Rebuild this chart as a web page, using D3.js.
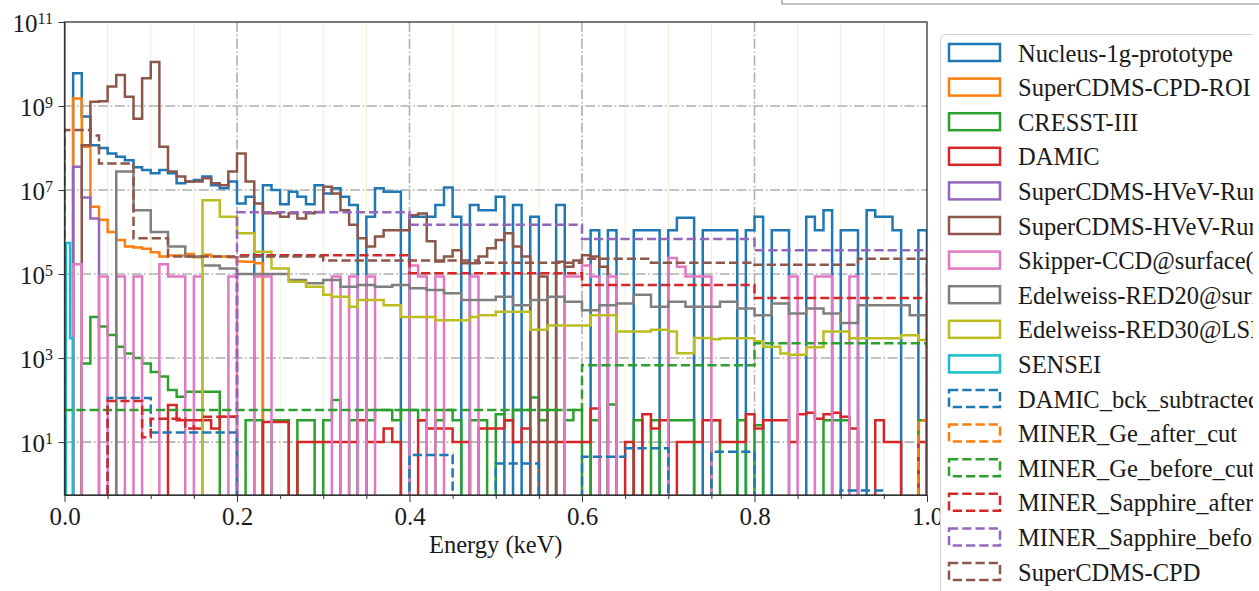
<!DOCTYPE html>
<html>
<head>
<meta charset="utf-8">
<script src="https://cdn.jsdelivr.net/npm/d3@7"></script>
<style>
  body { margin: 0; background: #fff; }
  text { font-family: "Liberation Serif", "Times New Roman", serif; fill: #1a1a1a; }
</style>
</head>
<body>
<svg width="1259" height="591"></svg>
<script>
// bin edges (keV), 0.01 keV bins
var edges = d3.range(0, 101).map(function(i) { return i / 100; });
var senseiEdges = [0.0015, 0.0065, 0.01];

// counts per bin (0 = empty bin)
var nucleus = [
  0, 6.0e9, 5.6e8, 1.17e8, 1.0e8, 7.4e7, 6.2e7, 5.1e7, 3.5e7, 3.0e7,
  2.5e7, 3.0e7, 2.5e7, 1.45e7, 1.6e7, 1.74e7, 2.1e7, 1.3e7, 1.1e7, 1.6e7,
  4.8e6, 6.9e6, 0, 1.3e7, 1.0e7, 4.6e6, 9.1e6, 6.9e6, 4.6e6, 1.3e7,
  8.3e6, 1.1e7, 6.9e6, 4.4e6, 0, 2.3e6, 1.1e7, 9.1e6, 9.1e6, 0,
  2.3e6, 2.3e6, 2.3e6, 4.4e6, 1.15e7, 2.3e6, 0, 4.4e6, 3.3e6, 3.3e6,
  6.9e6, 0, 4.4e6, 0, 2.3e6, 0, 0, 4.4e6, 0, 0,
  0, 1.1e6, 0, 1.1e6, 0, 0, 1.1e6, 1.1e6, 1.1e6, 0,
  1.1e6, 2.2e6, 2.2e6, 0, 1.1e6, 1.1e6, 1.1e6, 1.1e6, 0, 1.1e6,
  2.3e6, 0, 1.1e6, 1.1e6, 0, 0, 2.3e6, 1.1e6, 3.3e6, 0,
  1.1e6, 1.1e6, 0, 3.3e6, 2.3e6, 2.3e6, 1.1e6, 0, 0, 1.1e6
];
var cpdRoi = [
  0, 1.5e9, 1.07e8, 4.0e6, 1.95e6, 1.0e6, 6.5e5, 4.5e5, 4.3e5, 4.0e5,
  3.3e5, 2.6e5, 2.75e5, 2.75e5, 3.0e5, 2.5e5, 2.9e5, 2.6e5, 2.6e5, 2.5e5,
  2.0e5, 1.95e5, 1.8e5, 0, 0, 0, 0, 0, 0, 0,
  0, 0, 0, 0, 0, 0, 0, 0, 0, 0,
  0, 0, 0, 0, 0, 0, 0, 0, 0, 0,
  0, 0, 0, 0, 0, 0, 0, 0, 0, 0,
  0, 0, 0, 0, 0, 0, 0, 0, 0, 0,
  0, 0, 0, 0, 0, 0, 0, 0, 0, 0,
  0, 0, 0, 0, 0, 0, 0, 0, 0, 0,
  0, 0, 0, 0, 0, 0, 0, 0, 0, 0
];
var cresst = [
  0, 0, 741, 9550, 5623, 3548, 1862, 1288, 1000, 741,
  468, 363, 174, 120, 158, 158, 158, 158, 0, 0,
  0, 33, 33, 0, 33, 33, 0, 33, 33, 0,
  33, 100, 0, 33, 0, 33, 58, 58, 33, 58,
  58, 33, 0, 33, 58, 33, 0, 33, 33, 0,
  46, 33, 58, 58, 115, 33, 58, 0, 33, 58,
  0, 33, 0, 79, 0, 0, 33, 0, 33, 0,
  33, 33, 33, 0, 0, 33, 0, 0, 33, 0,
  25, 0, 0, 0, 0, 0, 0, 0, 33, 33,
  33, 0, 0, 0, 0, 0, 0, 0, 0, 33
];
var damic = [
  0, 0, 0, 0, 0, 0, 0, 0, 0, 0,
  0, 0, 76, 33, 33, 21, 33, 21, 40, 40,
  0, 0, 0, 30, 30, 30, 0, 10, 10, 10,
  10, 10, 10, 10, 33, 10, 10, 21, 10, 0,
  0, 33, 21, 21, 21, 10, 10, 0, 21, 21,
  21, 33, 10, 21, 10, 10, 10, 10, 10, 10,
  10, 63, 0, 0, 0, 10, 0, 46, 21, 33,
  0, 10, 10, 10, 33, 33, 10, 10, 10, 46,
  21, 33, 33, 33, 10, 46, 50, 36, 46, 50,
  40, 21, 0, 0, 33, 10, 10, 0, 0, 10
];
var hvevRun1 = [
  0, 3.6e7, 6.6e6, 2.1e6, 0, 0, 0, 0, 0, 0,
  0, 0, 0, 0, 0, 0, 0, 0, 0, 0,
  0, 0, 0, 0, 0, 0, 0, 0, 0, 0,
  0, 0, 0, 0, 0, 0, 0, 0, 0, 0,
  0, 0, 0, 0, 0, 0, 0, 0, 0, 0,
  0, 0, 0, 0, 0, 0, 0, 0, 0, 0,
  0, 0, 0, 0, 0, 0, 0, 0, 0, 0,
  0, 0, 0, 0, 0, 0, 0, 0, 0, 0,
  0, 0, 0, 0, 0, 0, 0, 0, 0, 0,
  0, 0, 0, 0, 0, 0, 0, 0, 0, 0
];
var hvevRun2 = [
  0, 0, 1.17e8, 1.26e9, 1.3e9, 2.9e9, 5.5e9, 1.66e9, 5.0e8, 4.6e9,
  1.12e10, 1.07e8, 2.75e7, 2.1e7, 1.6e7, 1.6e7, 1.9e7, 1.45e7, 1.3e7, 2.75e7,
  7.4e7, 1.6e7, 4.8e6, 2.8e6, 2.8e6, 2.3e6, 2.8e6, 2.1e6, 2.8e6, 3.0e6,
  1.2e7, 8.3e6, 3.3e6, 1.5e6, 7.1e5, 4.5e5, 7.8e5, 1.1e6, 1.1e6, 1.1e6,
  2.5e6, 2.75e6, 6.0e5, 2.0e5, 2.6e5, 3.7e5, 1.8e5, 1.8e5, 2.6e5, 4.1e5,
  6.5e5, 9.3e5, 4.5e5, 2.6e5, 0, 8.7e4, 0, 1.95e5, 1.5e5, 2.1e5,
  2.8e5, 2.6e5, 1.5e5, 0, 0, 0, 0, 0, 0, 0,
  0, 0, 0, 0, 0, 0, 0, 0, 0, 0,
  0, 0, 0, 0, 0, 0, 0, 0, 0, 0,
  0, 0, 0, 0, 0, 0, 0, 0, 0, 0
];
var skipper = [
  0, 1.7e5, 0, 0, 8.7e4, 0, 8.7e4, 0, 8.7e4, 0,
  0, 1.7e5, 8.7e4, 8.7e4, 0, 8.7e4, 0, 0, 0, 8.7e4,
  0, 0, 8.7e4, 8.7e4, 0, 0, 0, 0, 0, 0,
  0, 8.7e4, 0, 8.7e4, 0, 8.7e4, 0, 0, 0, 0,
  1.6e5, 8.7e4, 0, 8.7e4, 0, 0, 0, 8.7e4, 0, 0,
  0, 0, 0, 0, 0, 0, 0, 0, 8.7e4, 8.7e4,
  1.6e5, 8.7e4, 0, 8.7e4, 0, 0, 0, 0, 0, 0,
  2.4e5, 1.5e5, 8.7e4, 8.7e4, 8.7e4, 0, 0, 0, 0, 0,
  0, 0, 0, 0, 8.7e4, 0, 0, 8.7e4, 8.7e4, 0,
  0, 8.7e4, 0, 0, 0, 0, 0, 0, 0, 0
];
var red20 = [
  0, 0, 0, 0, 0, 0, 2.75e7, 2.75e7, 3.3e6, 3.3e6,
  1.0e6, 1.0e6, 4.5e5, 4.5e5, 2.6e5, 2.6e5, 1.6e5, 1.6e5, 1.35e5, 1.35e5,
  1.0e5, 1.0e5, 1.0e5, 1.0e5, 1.0e5, 1.0e5, 7.2e4, 7.2e4, 6.0e4, 6.0e4,
  7.2e4, 7.2e4, 5.0e4, 5.0e4, 5.5e4, 5.5e4, 5.0e4, 5.0e4, 5.5e4, 5.5e4,
  4.6e4, 4.6e4, 4.2e4, 4.2e4, 3.5e4, 3.5e4, 2.4e4, 2.4e4, 2.4e4, 2.4e4,
  2.9e4, 2.9e4, 1.82e4, 1.82e4, 2.4e4, 2.4e4, 2.9e4, 2.9e4, 2.19e4, 2.19e4,
  1.38e4, 1.38e4, 1.82e4, 1.82e4, 2.0e4, 2.0e4, 3.2e4, 3.2e4, 1.66e4, 1.66e4,
  2.19e4, 2.19e4, 1.66e4, 1.66e4, 1.66e4, 1.66e4, 2.19e4, 2.19e4, 1.51e4, 1.51e4,
  1.05e4, 1.05e4, 2.0e4, 2.0e4, 1.15e4, 1.15e4, 1.51e4, 1.51e4, 1.15e4, 1.15e4,
  6.8e3, 6.8e3, 1.82e4, 1.82e4, 1.82e4, 1.82e4, 1.82e4, 1.82e4, 1.05e4, 1.05e4
];
var red30 = [
  0, 0, 0, 0, 0, 0, 0, 0, 0, 0,
  0, 0, 0, 0, 0, 0, 5.75e6, 5.75e6, 2.3e6, 2.3e6,
  9.3e5, 9.3e5, 3.4e5, 3.4e5, 1.35e5, 1.35e5, 6.6e4, 6.6e4, 5.0e4, 5.0e4,
  3.2e4, 2.9e4, 2.9e4, 1.66e4, 2.4e4, 2.4e4, 2.4e4, 1.82e4, 1.82e4, 9.5e3,
  9.5e3, 9.5e3, 9.5e3, 7.9e3, 7.9e3, 7.9e3, 7.9e3, 9.5e3, 1.05e4, 1.05e4,
  1.26e4, 1.26e4, 1.26e4, 1.26e4, 4.7e3, 4.7e3, 6.0e3, 6.0e3, 6.0e3, 6.0e3,
  6.0e3, 1.05e4, 1.05e4, 1.05e4, 4.3e3, 4.3e3, 4.3e3, 4.3e3, 4.7e3, 4.7e3,
  4.3e3, 1.3e3, 1.3e3, 3.0e3, 3.0e3, 2.8e3, 2.95e3, 2.95e3, 2.95e3, 2.95e3,
  2.5e3, 1.86e3, 1.86e3, 1.29e3, 1.2e3, 1.2e3, 1.8e3, 1.8e3, 4.3e3, 4.3e3,
  4.3e3, 2.95e3, 2.95e3, 2.95e3, 2.95e3, 2.95e3, 2.95e3, 3.5e3, 3.5e3, 2.7e3
];
var sensei = [5.5e5, 2.95e3];
var damicBck = [
  0, 0, 0, 0, 0, 112, 112, 112, 112, 112,
  17, 17, 17, 17, 17, 17, 17, 17, 17, 17,
  0, 0, 0, 0, 0, 0, 0, 0, 0, 0,
  0, 0, 0, 0, 0, 0, 0, 0, 0, 0,
  4.9, 4.9, 4.9, 4.9, 4.9, 0, 0, 0, 0, 0,
  3.1, 3.1, 3.1, 3.1, 3.1, 0, 0, 0, 0, 0,
  4.5, 4.5, 4.5, 4.5, 4.5, 7.1, 7.1, 7.1, 7.1, 7.1,
  0, 0, 0, 0, 0, 5.9, 5.9, 5.9, 5.9, 5.9,
  0, 0, 0, 0, 0, 0, 0, 0, 0, 0,
  0.7, 0.7, 0.7, 0.7, 0.7, 0, 0, 0, 0, 0
];
var geAfter = [
  0, 0, 0, 0, 0, 0, 0, 0, 0, 0,
  0, 0, 0, 0, 0, 0, 0, 0, 0, 0,
  0, 0, 0, 0, 0, 0, 0, 0, 0, 0,
  0, 0, 0, 0, 0, 0, 0, 0, 0, 0,
  0, 0, 0, 0, 0, 0, 0, 0, 0, 0,
  0, 0, 0, 0, 0, 0, 0, 0, 0, 0,
  0, 0, 0, 0, 0, 0, 0, 0, 0, 0,
  0, 0, 0, 0, 0, 0, 0, 0, 0, 0,
  0, 0, 0, 0, 0, 0, 0, 0, 0, 0,
  0, 0, 0, 0, 0, 0, 0, 0, 0, 33
];
var geBefore = [
  58, 58, 58, 58, 58, 58, 58, 58, 58, 58,
  58, 58, 58, 58, 58, 58, 58, 58, 58, 58,
  58, 58, 58, 58, 58, 58, 58, 58, 58, 58,
  58, 58, 58, 58, 58, 58, 58, 58, 58, 58,
  58, 58, 58, 58, 58, 58, 58, 58, 58, 58,
  58, 58, 58, 58, 58, 58, 58, 58, 58, 58,
  676, 676, 676, 676, 676, 676, 676, 676, 676, 676,
  676, 676, 676, 676, 676, 676, 676, 676, 676, 676,
  2240, 2240, 2240, 2240, 2240, 2240, 2240, 2240, 2240, 2240,
  2240, 2240, 2240, 2240, 2240, 2240, 2240, 2240, 2240, 2240
];
var sapphireAfter = [
  0, 0, 0, 0, 0, 95, 95, 95, 95, 13,
  36, 36, 36, 36, 21, 33, 40, 40, 40, 40,
  2.8e5, 2.8e5, 2.8e5, 2.8e5, 2.8e5, 2.8e5, 2.8e5, 2.8e5, 2.8e5, 2.8e5,
  2.8e5, 2.8e5, 2.8e5, 2.8e5, 2.8e5, 2.8e5, 2.8e5, 2.8e5, 2.8e5, 2.8e5,
  1.05e5, 1.05e5, 1.05e5, 1.05e5, 1.05e5, 1.05e5, 1.05e5, 1.05e5, 1.05e5, 1.05e5,
  1.05e5, 1.05e5, 1.05e5, 1.05e5, 1.05e5, 1.05e5, 1.05e5, 1.05e5, 1.05e5, 1.05e5,
  5.5e4, 5.5e4, 5.5e4, 5.5e4, 5.5e4, 5.5e4, 5.5e4, 5.5e4, 5.5e4, 5.5e4,
  5.5e4, 5.5e4, 5.5e4, 5.5e4, 5.5e4, 5.5e4, 5.5e4, 5.5e4, 5.5e4, 5.5e4,
  2.7e4, 2.7e4, 2.7e4, 2.7e4, 2.7e4, 2.7e4, 2.7e4, 2.7e4, 2.7e4, 2.7e4,
  2.7e4, 2.7e4, 2.7e4, 2.7e4, 2.7e4, 2.7e4, 2.7e4, 2.7e4, 2.7e4, 2.7e4
];
var sapphireBefore = [
  0, 0, 0, 0, 0, 0, 0, 0, 0, 0,
  0, 0, 0, 0, 0, 0, 0, 0, 0, 0,
  2.95e6, 2.95e6, 2.95e6, 2.95e6, 2.95e6, 2.95e6, 2.95e6, 2.95e6, 2.95e6, 2.95e6,
  2.95e6, 2.95e6, 2.95e6, 2.95e6, 2.95e6, 2.95e6, 2.95e6, 2.95e6, 2.95e6, 2.95e6,
  1.5e6, 1.5e6, 1.5e6, 1.5e6, 1.5e6, 1.5e6, 1.5e6, 1.5e6, 1.5e6, 1.5e6,
  1.5e6, 1.5e6, 1.5e6, 1.5e6, 1.5e6, 1.5e6, 1.5e6, 1.5e6, 1.5e6, 1.5e6,
  6.8e5, 6.8e5, 6.8e5, 6.8e5, 6.8e5, 6.8e5, 6.8e5, 6.8e5, 6.8e5, 6.8e5,
  6.8e5, 6.8e5, 6.8e5, 6.8e5, 6.8e5, 6.8e5, 6.8e5, 6.8e5, 6.8e5, 6.8e5,
  3.7e5, 3.7e5, 3.7e5, 3.7e5, 3.7e5, 3.7e5, 3.7e5, 3.7e5, 3.7e5, 3.7e5,
  3.7e5, 3.7e5, 3.7e5, 3.7e5, 3.7e5, 3.7e5, 3.7e5, 3.7e5, 3.7e5, 3.7e5
];
var cpd = [
  2.7e8, 2.7e8, 2.7e8, 2.0e8, 4.3e7, 4.3e7, 4.3e7, 4.3e7, 7.1e5, 7.1e5,
  7.1e5, 7.1e5, 2.6e5, 2.6e5, 2.6e5, 2.6e5, 2.6e5, 2.6e5, 2.6e5, 2.6e5,
  2.6e5, 2.6e5, 2.6e5, 2.6e5, 2.6e5, 2.6e5, 2.6e5, 2.6e5, 2.6e5, 2.6e5,
  2.1e5, 2.1e5, 2.1e5, 2.1e5, 2.1e5, 2.1e5, 2.1e5, 2.1e5, 2.1e5, 2.1e5,
  2.1e5, 2.1e5, 2.1e5, 2.1e5, 2.1e5, 2.1e5, 2.1e5, 2.1e5, 1.86e5, 1.86e5,
  1.86e5, 1.86e5, 1.86e5, 1.86e5, 1.86e5, 1.86e5, 1.86e5, 1.86e5, 1.86e5, 1.86e5,
  2.3e5, 2.3e5, 2.3e5, 2.3e5, 2.3e5, 2.3e5, 2.3e5, 2.3e5, 1.86e5, 1.86e5,
  1.86e5, 1.86e5, 1.86e5, 1.86e5, 1.86e5, 1.86e5, 1.86e5, 1.86e5, 1.86e5, 1.86e5,
  1.66e5, 1.66e5, 1.66e5, 1.66e5, 1.66e5, 1.66e5, 1.66e5, 1.66e5, 1.66e5, 1.66e5,
  1.66e5, 1.66e5, 2.3e5, 2.3e5, 2.3e5, 2.3e5, 2.3e5, 2.3e5, 2.3e5, 2.3e5
];

var xTicks = [0, 0.2, 0.4, 0.6, 0.8, 1.0];
var xMinor = [0.05, 0.1, 0.15, 0.25, 0.3, 0.35, 0.45, 0.5, 0.55, 0.65, 0.7, 0.75, 0.85, 0.9, 0.95];
var yTicks = [1e1, 1e3, 1e5, 1e7, 1e9, 1e11];

var tab = ["#1f77b4", "#ff7f0e", "#2ca02c", "#d62728", "#9467bd",
           "#8c564b", "#e377c2", "#7f7f7f", "#bcbd22", "#17becf"];

var series = [
  {name: "Nucleus-1g-prototype", color: tab[0], dash: false, values: nucleus},
  {name: "SuperCDMS-CPD-ROI", color: tab[1], dash: false, values: cpdRoi},
  {name: "CRESST-III", color: tab[2], dash: false, values: cresst},
  {name: "DAMIC", color: tab[3], dash: false, values: damic},
  {name: "SuperCDMS-HVeV-Run1", color: tab[4], dash: false, values: hvevRun1},
  {name: "SuperCDMS-HVeV-Run2", color: tab[5], dash: false, values: hvevRun2},
  {name: "Skipper-CCD@surface(2020)", color: tab[6], dash: false, values: skipper},
  {name: "Edelweiss-RED20@surface", color: tab[7], dash: false, values: red20},
  {name: "Edelweiss-RED30@LSM", color: tab[8], dash: false, values: red30},
  {name: "SENSEI", color: tab[9], dash: false, values: sensei, edges: senseiEdges},
  {name: "DAMIC_bck_subtracted", color: tab[0], dash: true, values: damicBck},
  {name: "MINER_Ge_after_cut", color: tab[1], dash: true, values: geAfter},
  {name: "MINER_Ge_before_cut", color: tab[2], dash: true, values: geBefore},
  {name: "MINER_Sapphire_after_cut", color: tab[3], dash: true, values: sapphireAfter},
  {name: "MINER_Sapphire_before_cut", color: tab[4], dash: true, values: sapphireBefore},
  {name: "SuperCDMS-CPD", color: tab[5], dash: true, values: cpd}
];

series.forEach(function(s) {
  var e = s.edges || edges;
  if (s.values.length !== e.length - 1) throw new Error(s.name + " has " + s.values.length + " bins");
});

var svg = d3.select("svg"),
    plotL = 64.5, plotR = 927, plotT = 22, plotB = 495;

var x = d3.scaleLinear().domain([0, 1]).range([plotL, plotR]);
var y = d3.scaleLog().domain([0.55, 1e11]).range([plotB, plotT]);
var floor = 1e-3; // empty bins drop below the axes

var defs = svg.append("defs");
defs.append("clipPath").attr("id", "plot")
  .append("rect").attr("x", plotL).attr("y", plotT)
  .attr("width", plotR - plotL).attr("height", plotB - plotT);
defs.append("clipPath").attr("id", "legclip")
  .append("rect").attr("x", 930).attr("y", 0).attr("width", 323).attr("height", 591);

// minor grid
svg.append("g").selectAll("line").data(xMinor).enter().append("line")
    .attr("x1", function(d) { return x(d); }).attr("x2", function(d) { return x(d); })
    .attr("y1", plotT).attr("y2", plotB)
    .attr("stroke", "#eef0d4").attr("stroke-width", 1);

// major grid
var grid = svg.append("g").attr("stroke", "#b0b0b0").attr("stroke-width", 1.6)
    .attr("stroke-dasharray", "10,2.6,1.6,2.6").attr("fill", "none");
grid.selectAll(".gx").data(xTicks.slice(1, -1)).enter().append("line")
    .attr("x1", function(d) { return x(d); }).attr("x2", function(d) { return x(d); })
    .attr("y1", plotT).attr("y2", plotB);
grid.selectAll(".gy").data(yTicks.slice(0, -1)).enter().append("line")
    .attr("x1", plotL).attr("x2", plotR)
    .attr("y1", function(d) { return y(d); }).attr("y2", function(d) { return y(d); });

function stepPoints(e, vals) {
  var pts = [[e[0], floor]];
  vals.forEach(function(v, i) {
    var h = v > 0 ? v : floor;
    pts.push([e[i], h]);
    pts.push([e[i + 1], h]);
  });
  pts.push([e[e.length - 1], floor]);
  return pts;
}

var line = d3.line()
    .x(function(d) { return x(d[0]); })
    .y(function(d) { return y(d[1]); });

svg.append("g").attr("clip-path", "url(#plot)")
  .selectAll("path").data(series).enter().append("path")
    .attr("d", function(s) { return line(stepPoints(s.edges || edges, s.values)); })
    .attr("fill", "none")
    .attr("stroke", function(s) { return s.color; })
    .attr("stroke-width", 2.5)
    .attr("stroke-dasharray", function(s) { return s.dash ? "9.25,4" : null; });

// axes
var xAxis = svg.append("g").attr("transform", "translate(0," + plotB + ")")
    .call(d3.axisBottom(x).tickValues(xTicks).tickSize(7).tickSizeOuter(0)
      .tickFormat(d3.format(".1f")));
xAxis.selectAll("text").attr("y", 30).attr("dy", 0)
    .attr("font-size", 25).attr("fill", "#1a1a1a");
xAxis.attr("font-family", null);
svg.append("g").attr("transform", "translate(0," + plotB + ")")
    .call(d3.axisBottom(x).tickValues(xMinor).tickSize(4).tickFormat(""))
    .select(".domain").remove();

svg.append("g").attr("transform", "translate(" + plotL + ",0)")
    .call(d3.axisLeft(y).tickValues(yTicks).tickSize(6).tickSizeOuter(0).tickFormat(""));

var ylab = svg.append("g").selectAll("text").data(yTicks).enter().append("text")
    .attr("x", 53).attr("y", function(d) { return y(d) + 9.5; })
    .attr("text-anchor", "end").attr("font-size", 25);
ylab.append("tspan").text("10");
ylab.append("tspan").attr("dy", -8).attr("font-size", 16)
    .text(function(d) { return Math.round(Math.log10(d)); });

svg.selectAll(".domain").attr("stroke", "#333");
svg.selectAll(".tick line").attr("stroke", "#333");

svg.append("rect").attr("x", plotL).attr("y", plotT)
    .attr("width", plotR - plotL).attr("height", plotB - plotT)
    .attr("fill", "none").attr("stroke", "#333").attr("stroke-width", 1.3);

svg.append("text").attr("x", (plotL + plotR) / 2).attr("y", 553)
    .attr("text-anchor", "middle").attr("font-size", 24.5).text("Energy (keV)");

// remnant of a box above the legend
svg.append("path").attr("d", "M782,0V4H1259")
    .attr("fill", "none").attr("stroke", "#8a8a8a").attr("stroke-width", 1.2);

// legend (the figure is cropped on the right, so the names are cut)
var legend = svg.append("g").attr("clip-path", "url(#legclip)");
legend.append("rect").attr("x", 940.5).attr("y", 34.5).attr("width", 420).attr("height", 600)
    .attr("rx", 5).attr("fill", "#fff").attr("stroke", "#d4d4d4").attr("stroke-width", 1);
var item = legend.selectAll(".item").data(series).enter().append("g")
    .attr("transform", function(d, i) { return "translate(0," + (52.5 + i * 34.6) + ")"; });
item.append("rect").attr("x", 949).attr("y", -8.5).attr("width", 51).attr("height", 17)
    .attr("fill", "none").attr("stroke-width", 2.5)
    .attr("stroke", function(d) { return d.color; })
    .attr("stroke-dasharray", function(d) { return d.dash ? "9.25,4" : null; });
item.append("text").attr("x", 1018).attr("y", 9).attr("font-size", 24.5)
    .text(function(d) { return d.name; });
</script>
</body>
</html>
